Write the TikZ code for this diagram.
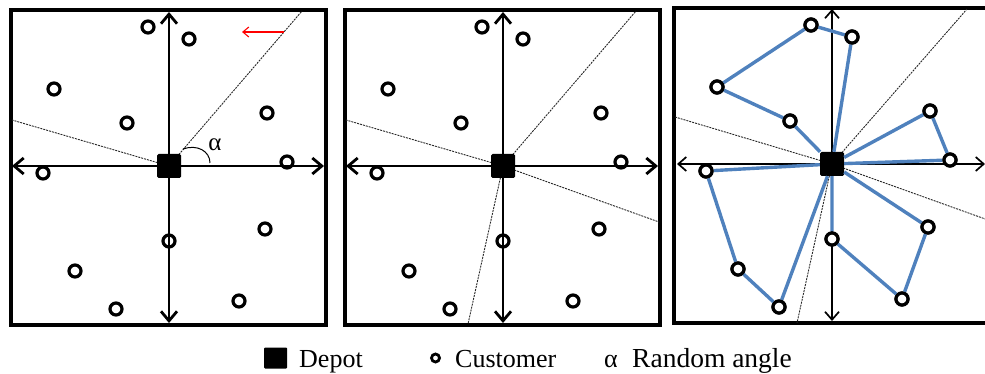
\documentclass[tikz,border=0pt]{standalone}
\usepackage{fontspec}
\setmainfont{Liberation Serif}
\usetikzlibrary{arrows.meta}

\definecolor{routeblue}{RGB}{79,129,189}

\tikzset{
  frame/.style={draw=black, line width=3.1pt},
  axis/.style={line width=2.8pt, {Straight Barb[length=9.5pt,width=16pt]}-{Straight Barb[length=9.5pt,width=16pt]}},
  thinaxis/.style={line width=1.7pt, {Straight Barb[length=8pt,width=14pt]}-{Straight Barb[length=8pt,width=14pt]}},
  ray/.style={draw=black!85, line width=0.9pt, dash pattern=on 2pt off 1pt},
  depot/.style={rectangle, fill=black, minimum size=24pt, inner sep=0pt, rounded corners=1.5pt},
  customer/.style={circle, draw=black, line width=3.2pt, minimum size=12pt, inner sep=0pt},
  filledcustomer/.style={customer, fill=white},
  route/.style={draw=routeblue, line width=3.4pt},
  label/.style={font=\fontsize{26}{30}\selectfont, inner sep=0pt},
}

% customers of one panel: #1 = name prefix, #2 = node style
\newcommand{\placecustomers}[2]{%
  \foreach \n/\cx/\cy in {1/148/27, 2/189/39, 3/54/89, 4/127/123, 5/267/113,
      6/287/162, 7/43/173, 8/169/241, 9/265/229, 10/75/271, 11/116/309, 12/239/301}
    \node[#2] (#1c\n) at (\cx,\cy) {};
}

% frame, axes and depot position of one panel: #1 = name prefix
\newcommand{\panelframe}[2]{%
  \draw[frame] (11,10) rectangle (326,325);
  \coordinate (#1o) at (169,166);
  \coordinate (#1top) at (169,12);
  \coordinate (#1bot) at (169,323);
  \coordinate (#1left) at (12,166);
  \coordinate (#1right) at (324,166);
  \draw[#2] (#1top) -- (#1bot);
  \draw[#2] (#1left) -- (#1right);
}

\begin{document}
\begin{tikzpicture}[x=1pt, y=-1pt]
\useasboundingbox (0,0) rectangle (985,374);
\clip (0,0) rectangle (985,374);

% ---------- first panel: one random ray and the angle ----------
\begin{scope}
  \panelframe{a}{axis}
  \coordinate (aA) at (302,11);
  \coordinate (aB) at (12,120);
  \draw[ray] (ao) -- (aA);
  \draw[ray] (ao) -- (aB);
  \node[depot] (ad) at (ao) {};
  \placecustomers{a}{customer}
  % angle mark
  \coordinate (arc1) at (183,149);
  \coordinate (arc2) at (210,163);
  \draw[line width=1pt] (arc1) .. controls (197,144) and (210,151) .. (arc2);
  \node[label, font=\fontsize{25}{30}\selectfont] (alpha) at (215,145) {α};
  % sweep direction
  \coordinate (redS) at (284,32);
  \coordinate (redE) at (242,32);
  \draw[red, line width=1.1pt, -{Straight Barb[length=6pt,width=10pt]}] (redS) -- (redE);
\end{scope}

% ---------- second panel: all sector boundaries ----------
\begin{scope}[shift={(334,0)}]
  \panelframe{b}{axis}
  \coordinate (bA) at (302,11);
  \coordinate (bB) at (12,120);
  \coordinate (bC) at (325,222);
  \coordinate (bD) at (134,324);
  \foreach \r in {A,B,C,D} \draw[ray] (bo) -- (b\r);
  \node[depot] (bd) at (bo) {};
  \placecustomers{b}{customer}
\end{scope}

% ---------- third panel: routes per sector ----------
\begin{scope}[shift={(663,-2)}]
  \draw[frame] (11,10) rectangle (340,325);
  \coordinate (co) at (169,166);
  \coordinate (ctop) at (169,11);
  \coordinate (cbot) at (169,323);
  \coordinate (cleft) at (14,166);
  \coordinate (cright) at (322,166);
  \draw[thinaxis] (ctop) -- (cbot);
  \draw[thinaxis] (cleft) -- (cright);
  \coordinate (cA) at (304,11);
  \coordinate (cB) at (12,119);
  \coordinate (cC) at (325,222);
  \coordinate (cD) at (134,325);
  \foreach \r in {A,B,C,D} \draw[ray] (co) -- (c\r);
  \node[depot] (cd) at (co) {};
  \placecustomers{c}{filledcustomer}
  \draw[route] (cd) -- (cc4) -- (cc3) -- (cc1) -- (cc2) -- (cd);
  \draw[route] (cd) -- (cc5) -- (cc6) -- (cd);
  \draw[route] (cd) -- (cc9) -- (cc12) -- (cc8) -- (cd);
  \draw[route] (cd) -- (cc11) -- (cc10) -- (cc7) -- (cd);
  \placecustomers{c}{filledcustomer}
\end{scope}

% ---------- legend ----------
\node[depot, minimum width=23pt, minimum height=21pt, rounded corners=1pt] (legdepot) at (275.5,358) {};
\node[label, anchor=base west] (legdepottext) at (299,367) {Depot};
\node[customer, line width=2.8pt, minimum size=8pt] (legcust) at (435.5,358) {};
\node[label, anchor=base west] (legcusttext) at (455,367) {Customer};
\node[label, anchor=base] (legalpha) at (611,367) {α};
\node[label, anchor=base west, font=\fontsize{27.5}{30}\selectfont] (legalphatext) at (632,367) {Random angle};
\end{tikzpicture}
\end{document}
